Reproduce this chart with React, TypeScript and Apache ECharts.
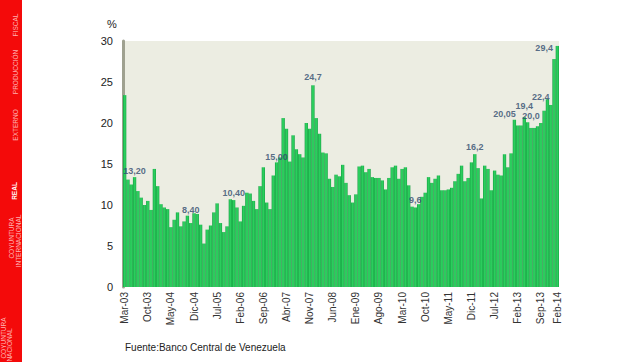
import React, { useEffect, useRef } from "react";
import * as echarts from "echarts";

// ---- data ----
const MONTH_NAMES = ["Ene", "Feb", "Mar", "Abr", "May", "Jun", "Jul", "Ago", "Sep", "Oct", "Nov", "Dic"];
const START_YEAR = 2003;
const START_MONTH = 2; // Mar
const MONTH_COUNT = 132; // Mar-03 .. Feb-14

const categories: string[] = [];
for (let k = 0; k < MONTH_COUNT; k++) {
  const m = (START_MONTH + k) % 12;
  const y = START_YEAR + Math.floor((START_MONTH + k) / 12);
  categories.push(`${MONTH_NAMES[m]}-${String(y % 100).padStart(2, "0")}`);
}

const values: number[] = [
  23.4, 13.1, 12.5, 13.4, 11.7, 10.9, 10.0, 10.5, 9.4, 14.4, 12.3, 10.1,
  9.7, 9.5, 7.3, 8.2, 9.1, 7.4, 8.0, 8.7, 7.8, 9.0, 8.9, 7.6,
  5.3, 7.0, 7.5, 9.1, 10.2, 7.8, 6.7, 7.4, 10.7, 10.6, 9.7, 8.0,
  9.9, 11.5, 11.4, 10.5, 9.5, 12.3, 14.6, 10.3, 9.5, 13.6, 15.2, 15.8,
  20.6, 19.3, 15.3, 18.5, 16.8, 16.2, 15.8, 20.0, 19.3, 24.6, 20.6, 18.7,
  16.4, 16.3, 13.2, 12.2, 13.7, 13.5, 14.9, 12.7, 11.2, 10.3, 11.3, 14.7,
  14.8, 14.0, 14.4, 13.4, 13.3, 13.3, 13.0, 11.9, 13.3, 14.6, 14.8, 13.2,
  14.4, 14.6, 12.4, 9.8, 9.7, 10.1, 11.0, 11.5, 13.4, 12.7, 13.2, 13.6,
  11.8, 11.8, 11.9, 12.1, 12.9, 13.8, 14.8, 12.9, 13.3, 15.2, 16.2, 14.5,
  10.8, 14.8, 14.4, 11.8, 14.2, 13.7, 13.6, 16.2, 14.6, 16.3, 20.4, 19.7,
  19.7, 20.7, 20.1, 19.4, 19.4, 19.6, 20.0, 21.5, 22.9, 22.2, 27.8, 29.4,
];

// value annotations (text, category index, level)
const noteTexts = ["13,20", "8,40", "10,40", "15,00", "24,7", "9,6", "16,2", "20,05", "19,4", "20,0", "22,4", "29,4"];
const noteIndex = [3, 20, 33, 46, 57, 88, 106, 115, 121, 123, 126, 127];
const noteLevel = [14.1, 9.35, 11.45, 15.9, 25.55, 10.6, 17.1, 21.1, 22.1, 20.9, 23.2, 29.2];

const yMin = 0;
const yMax = 30;
const yStep = 5;

const sourceText = "Fuente:Banco Central de Venezuela";
const unitText = "%";

// side tabs: [text, x, centerY, bold]
const sideTabs: [string, number, number, boolean][] = [
  ["MONETARIO", 15, -22, false],
  ["FISCAL", 15, 25, false],
  ["PRODUCCIÓN", 15, 72, false],
  ["EXTERNO", 15, 125, false],
  ["REAL", 14, 191, true],
  ["COYUNTURA", 11.5, 238, false],
  ["INTERNACIONAL", 18, 241, false],
  ["COYUNTURA", 3, 338, false],
  ["NACIONAL", 9.5, 345, false],
];

export default function App() {
  const ref = useRef<HTMLDivElement>(null);

  useEffect(() => {
    document.body.style.margin = "0";
    if (!ref.current) return;
    const chart = echarts.init(ref.current, undefined, { renderer: "svg" });

    const barGradient = new echarts.graphic.LinearGradient(0, 0, 1, 0, [
      { offset: 0, color: "#0f953a" },
      { offset: 0.3, color: "#2bcd5d" },
      { offset: 0.7, color: "#2bcd5d" },
      { offset: 1, color: "#139c3f" },
    ]);

    const graphic: any[] = [
      { type: "rect", shape: { x: 0, y: 0, width: 22, height: 362 }, style: { fill: "#f40a0a" }, z: 10 },
      ...sideTabs.map(([t, x, y, bold]) => ({
        type: "text",
        x,
        y,
        rotation: Math.PI / 2,
        z: 11,
        style: {
          text: t,
          fill: bold ? "#ffffff" : "#ffb0b0",
          fontSize: 6.5,
          fontWeight: bold ? "bold" : "normal",
          fontFamily: "Liberation Sans, Arial, sans-serif",
          align: "center",
          verticalAlign: "middle",
        },
      })),
      {
        type: "text",
        x: 112,
        y: 24,
        style: {
          text: unitText,
          fill: "#222",
          fontSize: 11,
          fontFamily: "Liberation Sans, Arial, sans-serif",
          align: "center",
          verticalAlign: "middle",
        },
      },
      {
        type: "text",
        x: 125,
        y: 347,
        style: {
          text: sourceText,
          fill: "#222",
          fontSize: 10,
          fontFamily: "Liberation Sans, Arial, sans-serif",
          align: "left",
          verticalAlign: "middle",
        },
      },
    ];

    chart.setOption({
      animation: false,
      backgroundColor: "#ffffff",
      grid: {
        left: 123,
        right: 85,
        top: 41,
        bottom: 75,
        show: true,
        backgroundColor: "#ECEDE2",
        borderWidth: 0,
      },
      xAxis: {
        type: "category",
        data: categories,
        boundaryGap: true,
        axisLine: { show: false },
        axisTick: { show: false },
        axisLabel: {
          rotate: 90,
          interval: (i: number) => i % 7 === 0 || i === MONTH_COUNT - 1,
          fontSize: 10,
          color: "#333",
          fontFamily: "Liberation Sans, Arial, sans-serif",
          margin: 5,
        },
      },
      yAxis: {
        type: "value",
        min: yMin,
        max: yMax,
        interval: yStep,
        splitLine: { show: false },
        axisTick: { show: false },
        axisLine: { show: true, lineStyle: { color: "#9fa190", width: 3 } },
        axisLabel: {
          fontSize: 11,
          color: "#222",
          fontFamily: "Liberation Sans, Arial, sans-serif",
          margin: 10,
        },
      },
      series: [
        {
          type: "bar",
          data: values,
          barCategoryGap: "0%",
          itemStyle: { color: barGradient },
          z: 2,
        },
        {
          type: "scatter",
          data: noteIndex.map((idx, k) => [idx, noteLevel[k]]),
          symbolSize: 1,
          itemStyle: { color: "rgba(0,0,0,0)" },
          z: 5,
          label: {
            show: true,
            position: "inside",
            formatter: (p: any) => noteTexts[p.dataIndex],
            fontSize: 9,
            fontWeight: "bold",
            color: "#2f4a6d",
            fontFamily: "Liberation Sans, Arial, sans-serif",
          },
        },
      ],
      graphic,
    });

    return () => chart.dispose();
  }, []);

  return (
    <div
      ref={ref}
      style={{ position: "fixed", left: 0, top: 0, width: 644, height: 362 }}
    />
  );
}
